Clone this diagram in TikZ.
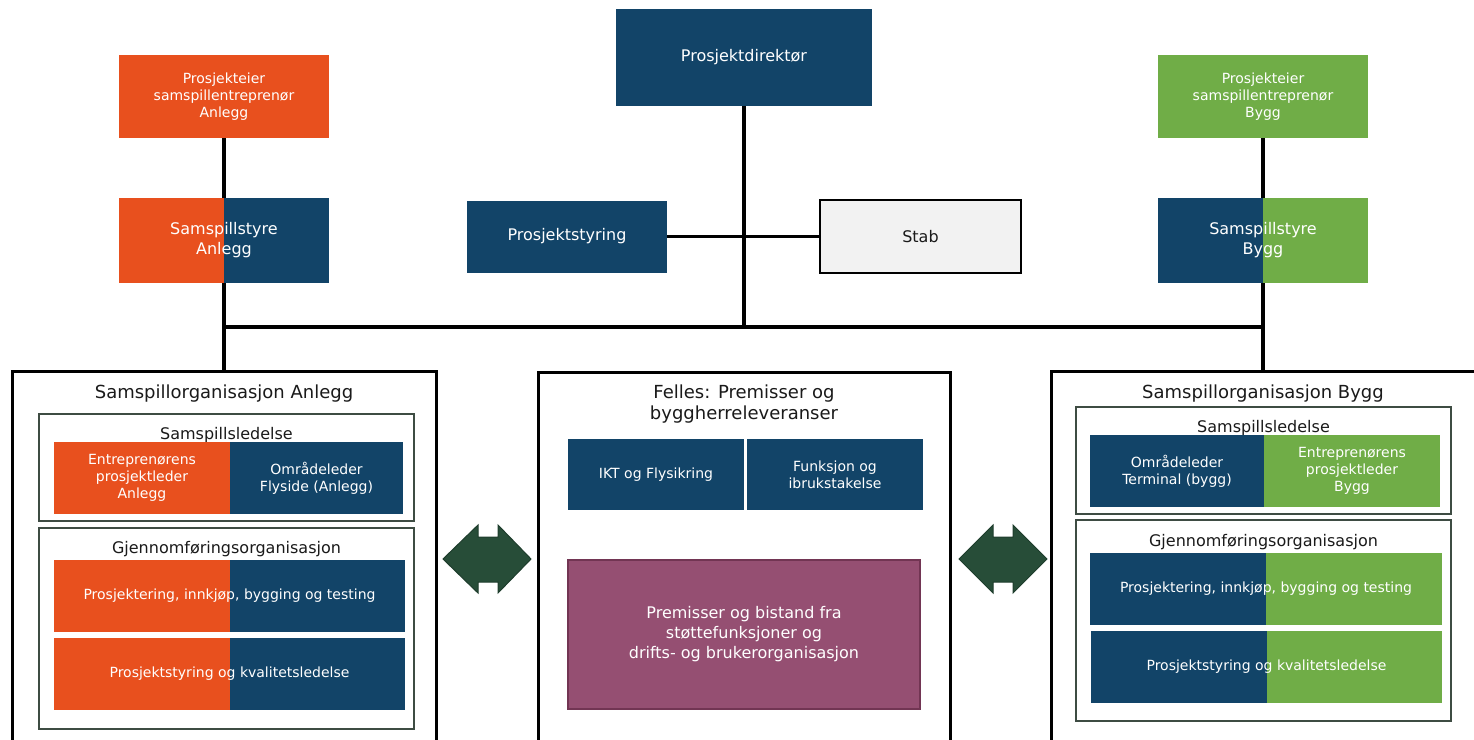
\documentclass[tikz,border=0pt]{standalone}
\usepackage{fontspec}
\setmainfont{DejaVu Sans}
\definecolor{orA}{HTML}{E8501E}
\definecolor{blA}{HTML}{124468}
\definecolor{grB}{HTML}{70AD47}
\definecolor{pu}{HTML}{954F72}
\definecolor{puD}{HTML}{723553}
\definecolor{arr}{HTML}{274D38}
\definecolor{arrD}{HTML}{1E3D2C}
\definecolor{frm}{HTML}{3E4C43}
\definecolor{stabg}{HTML}{F2F2F2}
\definecolor{txt}{HTML}{1A1A1A}
\begin{document}
\begin{tikzpicture}[x=1pt,y=-1pt,
  every node/.style={inner sep=0pt, outer sep=0pt, align=center},
  fs14/.style={font=\fontsize{14}{17}\selectfont},
  fs16/.style={font=\fontsize{16}{20}\selectfont},
  fs18/.style={font=\fontsize{18}{21}\selectfont},
  cell/.style={fill=#1, text=white, fs14},
  split/.style 2 args={text=white, path picture={
      \fill[#1] (path picture bounding box.north west) rectangle (path picture bounding box.south);
      \fill[#2] (path picture bounding box.north) rectangle (path picture bounding box.south east);}},
  orgbox/.style={draw=black, line width=3pt, fill=white},
  subbox/.style={draw=frm, line width=1.8pt},
  title/.style={text=txt, fs18},
  subtitle/.style={text=txt, fs16},
  conn/.style={draw=black, line width=3.6pt},
  dblarrow/.style={fill=arr, draw=arrD, line width=1pt, line join=miter}
]
\useasboundingbox (0,0) rectangle (1474,739);

% ---- top level ----
\node[cell=blA, fs16, minimum width=256pt, minimum height=97pt] (pd) at (744,57.5) {Prosjektdirektør};
\node[cell=blA, fs16, minimum width=200pt, minimum height=72pt] (ps) at (567,236.5) {Prosjektstyring};
\node[draw=black, line width=2.8pt, fill=stabg, text=txt, fs16, minimum width=201pt, minimum height=73pt] (stab) at (920.5,236.5) {Stab};

\node[cell=orA, minimum width=210pt, minimum height=83pt] (peA) at (224,96.5) {Prosjekteier\\samspillentreprenør\\Anlegg};
\node[split={orA}{blA}, fs16, minimum width=210pt, minimum height=85pt] (ssA) at (224,240.5) {Samspillstyre\\Anlegg};

\node[cell=grB, minimum width=210pt, minimum height=83pt] (peB) at (1263,96.5) {Prosjekteier\\samspillentreprenør\\Bygg};
\node[split={blA}{grB}, fs16, minimum width=210pt, minimum height=85pt] (ssB) at (1263,240.5) {Samspillstyre\\Bygg};

% ---- organisation boxes ----
\node[orgbox, minimum width=424pt, minimum height=400pt] (orgA) at (224,571) {};
\node[orgbox, minimum width=412pt, minimum height=400pt] (orgM) at (744,572) {};
\node[orgbox, minimum width=424pt, minimum height=400pt] (orgB) at (1263,571) {};

% Anlegg
\node[title] (tA) at (224,394) {Samspillorganisasjon Anlegg};
\node[subbox, minimum width=375pt, minimum height=107pt] (sA1) at (226.5,467.5) {};
\node[subtitle] (sA1t) at (226.5,435) {Samspillsledelse};
\node[cell=orA, minimum width=176pt, minimum height=72pt] (epA) at (142,478) {Entreprenørens\\prosjektleder\\Anlegg};
\node[cell=blA, minimum width=173pt, minimum height=72pt] (olA) at (316.5,478) {Områdeleder\\Flyside (Anlegg)};
\node[subbox, minimum width=375pt, minimum height=201pt] (sA2) at (226.5,628.5) {};
\node[subtitle] (sA2t) at (226.5,549) {Gjennomføringsorganisasjon};
\node[split={orA}{blA}, fs14, minimum width=351pt, minimum height=72pt] (rA1) at (229.5,596) {Prosjektering, innkjøp, bygging og testing};
\node[split={orA}{blA}, fs14, minimum width=351pt, minimum height=72pt] (rA2) at (229.5,674) {Prosjektstyring og kvalitetsledelse};

% Felles
\node[title] (tM) at (744,404.5) {Felles: Premisser og\\byggherreleveranser};
\node[cell=blA, minimum width=176pt, minimum height=71pt] (ikt) at (656,474.5) {IKT og Flysikring};
\node[cell=blA, minimum width=176pt, minimum height=71pt] (fun) at (835,474.5) {Funksjon og\\ibrukstakelse};
\node[fill=pu, draw=puD, line width=2.2pt, text=white, fs16, minimum width=352pt, minimum height=149pt] (prem) at (744,634.5) {Premisser og bistand fra\\støttefunksjoner og\\drifts- og brukerorganisasjon};

% Bygg
\node[title] (tB) at (1263,394) {Samspillorganisasjon Bygg};
\node[subbox, minimum width=375pt, minimum height=107pt] (sB1) at (1263.5,460.5) {};
\node[subtitle] (sB1t) at (1263.5,428) {Samspillsledelse};
\node[cell=blA, minimum width=174pt, minimum height=72pt] (olB) at (1177,471) {Områdeleder\\Terminal (bygg)};
\node[cell=grB, minimum width=176pt, minimum height=72pt] (epB) at (1352,471) {Entreprenørens\\prosjektleder\\Bygg};
\node[subbox, minimum width=375pt, minimum height=201pt] (sB2) at (1263.5,620.5) {};
\node[subtitle] (sB2t) at (1263.5,542) {Gjennomføringsorganisasjon};
\node[split={blA}{grB}, fs14, minimum width=352pt, minimum height=72pt] (rB1) at (1266,589) {Prosjektering, innkjøp, bygging og testing};
\node[split={blA}{grB}, fs14, minimum width=351pt, minimum height=72pt] (rB2) at (1266.5,667) {Prosjektstyring og kvalitetsledelse};

% ---- double arrows ----
\path[dblarrow] (443,559) -- (478,525) -- (478,537) -- (498,537) -- (498,525) -- (531,559)
  -- (498,593) -- (498,582) -- (478,582) -- (478,593) -- cycle;
\path[dblarrow] (959,559) -- (993,525) -- (993,537) -- (1013,537) -- (1013,525) -- (1047,559)
  -- (1013,593) -- (1013,582) -- (993,582) -- (993,593) -- cycle;

% ---- connectors ----
\coordinate (bus) at (744,327);
\draw[conn] (peA.south) -- (ssA.north);
\draw[conn] (peB.south) -- (ssB.north);
\draw[conn] (ssA.south) -- (orgA.north);
\draw[conn] (ssB.south) -- (orgB.north);
\draw[conn] (ssA.south |- bus) -- (ssB.south |- bus);
\draw[conn] (pd.south) -- (bus);
\draw[conn] (ps.east) -- (stab.west);
\end{tikzpicture}
\end{document}
